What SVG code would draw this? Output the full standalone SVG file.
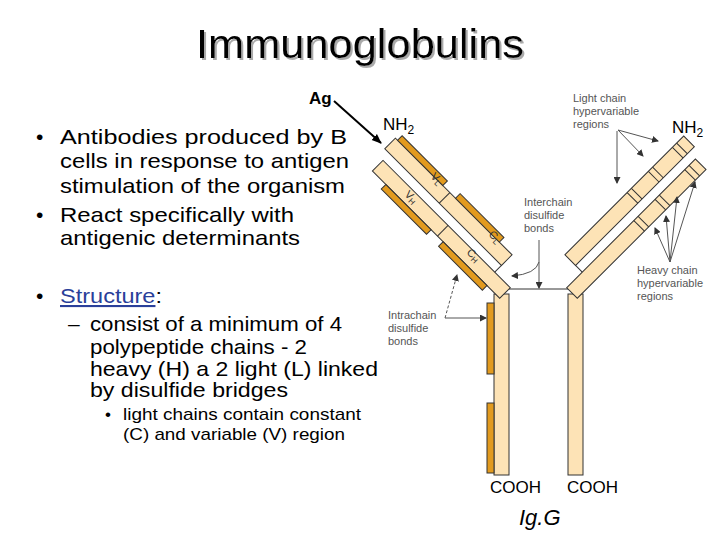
<svg xmlns="http://www.w3.org/2000/svg" width="720" height="540" viewBox="0 0 720 540">
<defs>
<style>
.t{font-family:"Liberation Sans",Arial,sans-serif;fill:#000}
.b{font-size:21px}
.s{font-size:11px;fill:#555}
.ch{fill:#fde3b6;stroke:#333;stroke-width:1}
.au{fill:#e29a1e;stroke:#333;stroke-width:1}
.dv{stroke:#333;stroke-width:1}
.ar{stroke:#555;stroke-width:1;fill:none;marker-end:url(#ah)}
</style>
<filter id="sh" x="-5%" y="-20%" width="110%" height="140%"><feDropShadow dx="2" dy="2" stdDeviation="0.5" flood-color="#aaa"/></filter>
<marker id="ah" markerWidth="7" markerHeight="7" refX="6" refY="3.5" orient="auto" markerUnits="userSpaceOnUse"><path d="M0,0 L7,3.5 L0,7 Z" fill="#333"/></marker>
<marker id="ahb" markerWidth="10" markerHeight="10" refX="9" refY="5" orient="auto" markerUnits="userSpaceOnUse"><path d="M0,1 L10,5 L0,9 Z" fill="#000"/></marker>
</defs>
<rect width="720" height="540" fill="#fff"/>
<text class="t" x="196" y="58" font-size="40" textLength="328" lengthAdjust="spacingAndGlyphs" filter="url(#sh)">Immunoglobulins</text>

<g id="text-left">
<text class="t b" x="36" y="144">•</text>
<text class="t b" x="60" y="144" textLength="287" lengthAdjust="spacingAndGlyphs">Antibodies produced by B</text>
<text class="t b" x="60" y="168" textLength="289" lengthAdjust="spacingAndGlyphs">cells in response to antigen</text>
<text class="t b" x="60" y="193" textLength="285" lengthAdjust="spacingAndGlyphs">stimulation of the organism</text>
<text class="t b" x="36" y="222">•</text>
<text class="t b" x="60" y="222" textLength="234" lengthAdjust="spacingAndGlyphs">React specifically with</text>
<text class="t b" x="60" y="245" textLength="240" lengthAdjust="spacingAndGlyphs">antigenic determinants</text>
<text class="t b" x="36" y="303">•</text>
<text class="t b" x="60" y="303" textLength="102" lengthAdjust="spacingAndGlyphs"><tspan fill="#2a3f9a" text-decoration="underline" style="fill:#2a3f9a">Structure</tspan>:</text>
<text class="t b" x="68" y="331">–</text>
<text class="t b" x="90" y="331" textLength="252" lengthAdjust="spacingAndGlyphs">consist of a minimum of 4</text>
<text class="t b" x="90" y="354" textLength="217" lengthAdjust="spacingAndGlyphs">polypeptide chains - 2</text>
<text class="t b" x="90" y="376" textLength="288" lengthAdjust="spacingAndGlyphs">heavy (H) a 2 light (L) linked</text>
<text class="t b" x="90" y="397" textLength="198" lengthAdjust="spacingAndGlyphs">by disulfide bridges</text>
<text class="t" x="105" y="420" font-size="17">•</text>
<text class="t" x="123" y="420" font-size="17" textLength="238" lengthAdjust="spacingAndGlyphs">light chains contain constant</text>
<text class="t" x="123" y="440" font-size="17" textLength="222" lengthAdjust="spacingAndGlyphs">(C) and variable (V) region</text>
</g>

<g id="antibody">
<rect class="ch" x="494" y="294" width="15" height="181"/>
<rect class="ch" x="568" y="294" width="15" height="181"/>
<rect class="au" x="487" y="303" width="7" height="71"/>
<rect class="au" x="487" y="403" width="7" height="70"/>
<line class="dv" x1="509" y1="289" x2="568" y2="289"/>
<g id="left-arms" transform="translate(505,293) rotate(-135)">
<rect class="ch" x="0" y="-7.5" width="180" height="15"/>
<rect class="au" x="18" y="-14" width="62" height="6.5"/>
<rect class="au" x="97" y="-14" width="64" height="6.5"/>
<line class="dv" x1="88" y1="-7.5" x2="88" y2="7.5"/>
<rect class="ch" x="22" y="17" width="165" height="15"/>
<rect class="au" x="40" y="32" width="62" height="6.5"/>
<rect class="au" x="120" y="32" width="64" height="6.5"/>
<line class="dv" x1="110" y1="17" x2="110" y2="32"/>
<line class="dv" x1="22" y1="7.5" x2="22" y2="17"/>
</g>
<g id="right-arms" transform="translate(1077,0) scale(-1,1) translate(505,293) rotate(-135)">
<rect class="ch" x="0" y="-7.5" width="182" height="15"/>
<rect class="ch" x="22" y="17" width="168" height="15"/>
<line class="dv" x1="22" y1="7.5" x2="22" y2="17"/>
<path class="dv" d="M95,-7.5V7.5M101,-7.5V7.5M125,-7.5V7.5M131,-7.5V7.5M167,-7.5V7.5M173,-7.5V7.5M110,17V32M116,17V32M140,17V32M146,17V32M174,17V32M180,17V32"/>
</g>
<g font-family="Liberation Sans,Arial,sans-serif" font-size="11" fill="#333">
<text transform="translate(430,177) rotate(45)">V<tspan font-size="8" dy="2">L</tspan></text>
<text transform="translate(404,195) rotate(45)">V<tspan font-size="8" dy="2">H</tspan></text>
<text transform="translate(488,235) rotate(45)">C<tspan font-size="8" dy="2">L</tspan></text>
<text transform="translate(466,253) rotate(45)">C<tspan font-size="8" dy="2">H</tspan></text>
</g>
</g>

<g id="labels">
<text class="t" x="309" y="104" font-size="17" font-weight="bold">Ag</text>
<text class="t" x="383" y="130" font-size="17">NH<tspan font-size="12" dy="4">2</tspan></text>
<text class="t" x="672" y="133" font-size="17">NH<tspan font-size="12" dy="4">2</tspan></text>
<text class="t" x="490" y="493" font-size="17">COOH</text>
<text class="t" x="567" y="493" font-size="17">COOH</text>
<text class="t" x="519" y="525" font-size="22" font-style="italic">Ig.G</text>
<text class="t s" x="573" y="102">Light chain</text>
<text class="t s" x="573" y="115">hypervariable</text>
<text class="t s" x="573" y="128">regions</text>
<text class="t s" x="524" y="206">Interchain</text>
<text class="t s" x="524" y="219">disulfide</text>
<text class="t s" x="524" y="232">bonds</text>
<text class="t s" x="637" y="274">Heavy chain</text>
<text class="t s" x="637" y="287">hypervariable</text>
<text class="t s" x="637" y="300">regions</text>
<text class="t s" x="388" y="319">Intrachain</text>
<text class="t s" x="388" y="332">disulfide</text>
<text class="t s" x="388" y="345">bonds</text>
</g>

<g id="connectors">
<line x1="334" y1="101" x2="381" y2="143" stroke="#000" stroke-width="2" marker-end="url(#ahb)"/>
<line class="ar" x1="618" y1="130" x2="658" y2="141"/>
<line class="ar" x1="618" y1="130" x2="643" y2="156"/>
<line class="ar" x1="617" y1="131" x2="617" y2="183"/>
<line class="ar" x1="539" y1="240" x2="539" y2="288"/>
<path class="ar" d="M539,262 Q536,274 512,276"/>
<line class="ar" x1="670" y1="262" x2="655" y2="228"/>
<line class="ar" x1="670" y1="262" x2="666" y2="216"/>
<line class="ar" x1="670" y1="262" x2="677" y2="197"/>
<line class="ar" x1="670" y1="262" x2="695" y2="182"/>
<path class="ar" d="M445,318 L457,275" stroke-dasharray="3,2"/>
<line class="ar" x1="445" y1="318" x2="486" y2="318"/>
</g>
</svg>
